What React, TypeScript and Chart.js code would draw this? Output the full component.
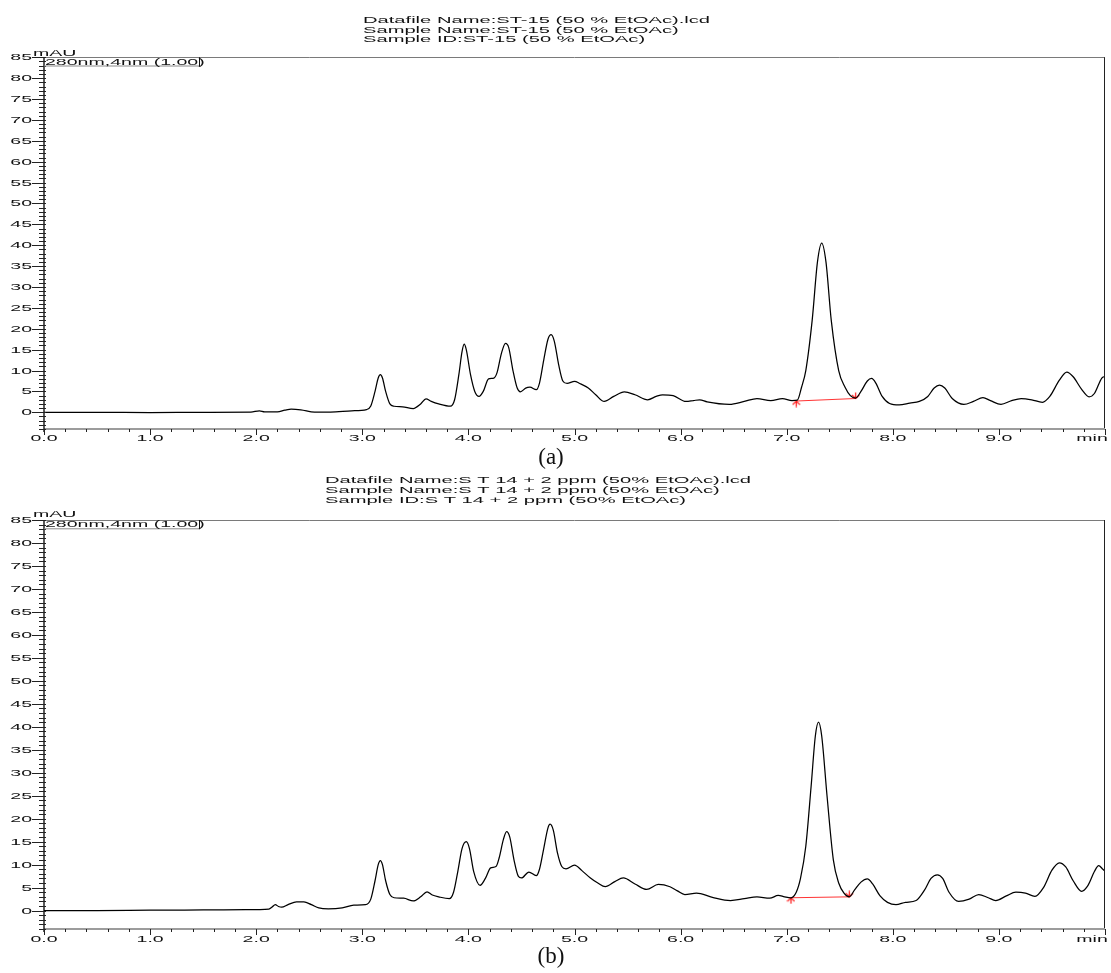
import React, { useEffect, useRef } from "react";
import { Chart, registerables } from "chart.js";

Chart.register(...registerables);

// ---------- data ----------
const timesA = [
  0.0, 0.5, 1.0, 1.5, 1.95, 2.03, 2.08, 2.2, 2.27, 2.33, 2.42, 2.55, 2.7, 2.9, 3.04, 3.08, 3.12, 3.15, 3.17, 3.19,
  3.22, 3.26, 3.3, 3.38, 3.48, 3.55, 3.6, 3.65, 3.72, 3.83, 3.87, 3.91, 3.94, 3.96, 3.98, 4.02, 4.06, 4.1, 4.14, 4.19,
  4.24, 4.27, 4.31, 4.35, 4.38, 4.42, 4.46, 4.49, 4.54, 4.58, 4.64, 4.67, 4.71, 4.75, 4.78, 4.81, 4.85, 4.89, 4.93, 5.0,
  5.05, 5.13, 5.2, 5.28, 5.37, 5.47, 5.57, 5.69, 5.77, 5.83, 5.93, 6.05, 6.12, 6.18, 6.25, 6.46, 6.6, 6.72, 6.85, 6.96,
  7.05, 7.1, 7.14, 7.18, 7.24, 7.29, 7.33, 7.37, 7.42, 7.49, 7.55, 7.6, 7.65, 7.7, 7.76, 7.8, 7.84, 7.9, 7.97, 8.06,
  8.16, 8.25, 8.33, 8.39, 8.44, 8.49, 8.56, 8.67, 8.76, 8.85, 8.92, 9.02, 9.12, 9.21, 9.31, 9.41, 9.48, 9.57, 9.64, 9.7,
  9.78, 9.85, 9.9, 9.97, 10.0,
];
const signalA = [
  0.0, 0.0, -0.05, 0.0, 0.05, 0.35, 0.1, 0.1, 0.5, 0.75, 0.6, 0.05, 0.05, 0.35, 0.65, 1.5, 5.0, 8.2, 9.0, 8.2,
  5.0, 2.0, 1.45, 1.3, 0.9, 2.0, 3.2, 2.6, 2.0, 1.45, 3.0, 9.0, 14.5, 16.3, 15.0, 9.0, 5.0, 3.8, 5.0, 8.0,
  8.2, 9.5, 14.0, 16.5, 15.5, 10.0, 5.8, 4.9, 5.8, 6.0, 5.4, 7.0, 12.5, 17.5, 18.6, 17.0, 11.5, 7.5, 6.9, 7.4,
  6.9, 5.8, 4.2, 2.6, 3.8, 4.9, 4.2, 3.0, 3.8, 4.2, 4.0, 2.6, 2.8, 3.0, 2.5, 1.9, 2.6, 3.3, 2.8, 3.3,
  2.8, 2.9, 6.0, 10.0, 22.0, 36.0, 40.5, 36.0, 22.0, 10.0, 6.0, 4.0, 3.4, 5.0, 7.5, 8.1, 7.0, 3.8, 2.1, 1.75,
  2.2, 2.6, 3.8, 5.8, 6.5, 5.8, 3.3, 1.9, 2.6, 3.5, 2.8, 1.9, 2.8, 3.3, 3.0, 2.4, 3.8, 7.7, 9.6, 8.5,
  5.5, 3.7, 4.5, 8.2, 8.6,
];

const timesB = [
  0.0, 0.5, 1.0, 1.5, 1.9, 2.12, 2.15, 2.18, 2.21, 2.24, 2.3, 2.38, 2.45, 2.52, 2.59, 2.68, 2.81, 2.92, 3.03, 3.08,
  3.12, 3.15, 3.17, 3.19, 3.22, 3.26, 3.3, 3.39, 3.48, 3.55, 3.61, 3.66, 3.72, 3.82, 3.86, 3.9, 3.94, 3.98, 4.01, 4.05,
  4.11, 4.16, 4.21, 4.26, 4.29, 4.33, 4.36, 4.39, 4.43, 4.47, 4.5, 4.57, 4.64, 4.67, 4.71, 4.75, 4.77, 4.8, 4.84, 4.88,
  4.92, 5.0, 5.07, 5.15, 5.22, 5.29, 5.38, 5.46, 5.57, 5.68, 5.79, 5.9, 5.97, 6.04, 6.15, 6.3, 6.47, 6.6, 6.72, 6.84,
  6.92, 6.98, 7.04, 7.09, 7.13, 7.18, 7.23, 7.27, 7.3, 7.33, 7.38, 7.44, 7.49, 7.54, 7.59, 7.64, 7.7, 7.76, 7.81, 7.88,
  7.95, 8.03, 8.12, 8.22, 8.3, 8.36, 8.42, 8.47, 8.53, 8.62, 8.72, 8.81, 8.9, 8.97, 9.07, 9.16, 9.25, 9.34, 9.42, 9.5,
  9.57, 9.63, 9.7, 9.78, 9.84, 9.9, 9.94, 9.98, 10.0,
];
const signalB = [
  0.0, 0.0, 0.1, 0.15, 0.2, 0.35, 0.8, 1.3, 0.9, 0.75, 1.3, 1.9, 1.9, 1.3, 0.6, 0.4, 0.6, 1.2, 1.3, 2.5,
  6.5, 10.0, 10.9, 10.0, 6.5, 3.5, 2.8, 2.7, 2.1, 3.0, 4.1, 3.4, 3.0, 2.6, 4.0, 8.5, 13.5, 15.0, 13.5, 8.5,
  5.5, 7.0, 9.3, 9.6, 11.5, 15.5, 17.2, 16.0, 11.0, 7.5, 7.1, 8.4, 7.6, 9.0, 13.5, 18.0, 18.8, 17.5, 12.5, 9.6,
  9.1, 9.9, 8.7, 7.1, 6.0, 5.2, 6.3, 7.1, 5.8, 4.6, 5.7, 5.2, 4.3, 3.5, 3.8, 2.9, 2.2, 2.6, 3.0, 2.7,
  3.3, 3.0, 2.8, 4.0, 7.0, 14.0, 27.0, 38.0, 41.0, 38.0, 25.0, 11.0, 6.0, 3.8, 3.0, 4.5, 6.2, 6.9, 5.8, 3.2,
  1.8, 1.3, 1.8, 2.2, 4.5, 7.0, 7.8, 7.0, 4.0, 2.0, 2.5, 3.5, 2.8, 2.2, 3.2, 4.0, 3.8, 3.1, 5.0, 8.8,
  10.4, 9.5, 6.5, 4.2, 5.5, 8.5, 9.8, 9.0, 8.6,
];

// integration baselines (start, end) of the main peak
const baselineTimesA = [7.09, 7.65];
const baselineValuesA = [2.7, 3.3];
const baselineTimesB = [7.04, 7.59];
const baselineValuesB = [2.8, 3.0];

// axis ticks
const yLabelValues = [0, 5, 10, 15, 20, 25, 30, 35, 40, 45, 50, 55, 60, 65, 70, 75, 80, 85];
const xLabelValues = [0, 1, 2, 3, 4, 5, 6, 7, 8, 9, 10];
const xTickLabels = ["0.0", "1.0", "2.0", "3.0", "4.0", "5.0", "6.0", "7.0", "8.0", "9.0", "min"];

const titlesA = [
  "Datafile Name:ST-15 (50 % EtOAc).lcd",
  "Sample Name:ST-15 (50 % EtOAc)",
  "Sample ID:ST-15 (50 % EtOAc)",
];
const titlesB = [
  "Datafile Name:S T 14 + 2 ppm (50% EtOAc).lcd",
  "Sample Name:S T 14 + 2 ppm (50% EtOAc)",
  "Sample ID:S T 14 + 2 ppm (50% EtOAc)",
];
const channelLabel = "280nm,4nm (1.00)";
const unitLabel = "mAU";

// ---------- drawing helpers ----------
const SANS = '"Liberation Sans", Arial, sans-serif';
const SX = 2.3; // horizontal stretch of the reference text
const SX_TITLE = 2.37;
const FONT = `8.5px ${SANS}`;

function makeArrow(up: boolean): HTMLCanvasElement {
  const c = document.createElement("canvas");
  c.width = 9;
  c.height = 13;
  const g = c.getContext("2d")!;
  g.strokeStyle = "#ff1010";
  g.lineWidth = 1.2;
  g.beginPath();
  if (up) {
    g.moveTo(4.5, 6.5);
    g.lineTo(4.5, 12.5);
    g.moveTo(0.8, 10.2);
    g.lineTo(4.5, 6.5);
    g.lineTo(8.2, 10.2);
  } else {
    g.moveTo(4.5, 6.5);
    g.lineTo(4.5, 0.5);
    g.moveTo(0.8, 2.8);
    g.lineTo(4.5, 6.5);
    g.lineTo(8.2, 2.8);
  }
  g.stroke();
  return c;
}

interface PanelCfg {
  times: number[];
  signal: number[];
  baseT: number[];
  baseV: number[];
  titles: string[];
  titleX: number;
  titleBaselines: number[];
  mauBaseline: number;
  legendBottom: number;
  legendBaseline: number;
  xLabelOffset: number;
  caption: string;
  captionY: number;
  width: number;
  height: number;
  padTop: number;
  padRight: number;
  xAxisHeight: number;
}

function stext(ctx: CanvasRenderingContext2D, s: string, x: number, y: number, align: CanvasTextAlign, sx = SX) {
  ctx.save();
  ctx.translate(x, y);
  ctx.scale(sx, 1);
  ctx.textAlign = align;
  ctx.fillText(s, 0, 0);
  ctx.restore();
}

function makePlugin(cfg: PanelCfg) {
  return {
    id: "hplcFrame",
    afterDraw(chart: any) {
      const ctx: CanvasRenderingContext2D = chart.ctx;
      const xs = chart.scales.x;
      const ys = chart.scales.y;
      const a = chart.chartArea;
      ctx.save();
      // frame: top and right
      ctx.strokeStyle = "#7a7a7a";
      ctx.lineWidth = 1;
      ctx.beginPath();
      ctx.moveTo(a.left, Math.round(a.top) + 0.5);
      ctx.lineTo(a.right, Math.round(a.top) + 0.5);
      ctx.stroke();
      ctx.strokeStyle = "#222";
      ctx.beginPath();
      ctx.moveTo(Math.round(a.right) - 0.5, a.top);
      ctx.lineTo(Math.round(a.right) - 0.5, a.bottom);
      ctx.stroke();
      // bottom axis (gray, thick)
      ctx.strokeStyle = "#9c9c9c";
      ctx.lineWidth = 2;
      ctx.beginPath();
      ctx.moveTo(a.left, a.bottom);
      ctx.lineTo(a.right, a.bottom);
      ctx.stroke();
      // left axis
      ctx.strokeStyle = "#000";
      ctx.lineWidth = 1.3;
      ctx.beginPath();
      ctx.moveTo(a.left, a.top);
      ctx.lineTo(a.left, a.bottom + 3);
      ctx.stroke();

      // y ticks
      ctx.lineWidth = 1;
      ctx.strokeStyle = "#222";
      const yMin = ys.min, yMax = ys.max;
      for (let v = Math.ceil(yMin); v <= yMax; v++) {
        const py = Math.round(ys.getPixelForValue(v)) + 0.5;
        ctx.beginPath();
        ctx.moveTo(a.left - 5, py);
        ctx.lineTo(a.left + 2, py);
        ctx.stroke();
      }
      ctx.fillStyle = "#111";
      ctx.font = FONT;
      ctx.textBaseline = "middle";
      for (const v of yLabelValues) {
        const py = Math.round(ys.getPixelForValue(v)) + 0.5;
        ctx.beginPath();
        ctx.moveTo(a.left - 12, py);
        ctx.lineTo(a.left, py);
        ctx.stroke();
        stext(ctx, String(v), a.left - 12, py, "right");
      }
      // x ticks (every 0.2 min)
      for (let k = 0; k <= 50; k++) {
        const px = Math.round(xs.getPixelForValue(k * 0.2)) + 0.5;
        const len = k % 5 === 0 ? 6 : 3;
        ctx.beginPath();
        ctx.moveTo(px, a.bottom);
        ctx.lineTo(px, a.bottom + len);
        ctx.stroke();
      }
      ctx.textBaseline = "middle";
      xLabelValues.forEach((v, i) => {
        const px = xs.getPixelForValue(v);
        const label = xTickLabels[i];
        const dx = label === "min" ? -13 : 0;
        stext(ctx, label, px + dx, a.bottom + cfg.xLabelOffset, "center");
      });

      // unit label and channel legend
      ctx.textBaseline = "alphabetic";
      stext(ctx, unitLabel, a.left - 11, cfg.mauBaseline, "left");
      ctx.strokeStyle = "#8a8a8a";
      ctx.beginPath();
      ctx.moveTo(a.left, cfg.legendBottom + 0.5);
      ctx.lineTo(199, cfg.legendBottom + 0.5);
      ctx.stroke();
      ctx.strokeStyle = "#111";
      ctx.beginPath();
      ctx.moveTo(199.5, a.top);
      ctx.lineTo(199.5, cfg.legendBottom + 1);
      ctx.stroke();
      stext(ctx, channelLabel, a.left + 1, cfg.legendBaseline, "left");

      // titles
      cfg.titles.forEach((t, i) => stext(ctx, t, cfg.titleX, cfg.titleBaselines[i], "left", SX_TITLE));

      // caption
      ctx.font = `23px "Liberation Serif", "Times New Roman", serif`;
      ctx.textAlign = "center";
      ctx.textBaseline = "middle";
      ctx.fillText(cfg.caption, 551, cfg.captionY);
      ctx.restore();
    },
  };
}

function Panel({ cfg, top }: { cfg: PanelCfg; top: number }) {
  const ref = useRef<HTMLCanvasElement | null>(null);
  useEffect(() => {
    const canvas = ref.current!;
    const up = makeArrow(true);
    const down = makeArrow(false);
    const chart = new Chart(canvas, {
      type: "line",
      data: {
        datasets: [
          {
            data: cfg.times.map((t, i) => ({ x: t, y: cfg.signal[i] })),
            borderColor: "#000",
            borderWidth: 1.25,
            pointRadius: 0,
            cubicInterpolationMode: "monotone",
            fill: false,
          },
          {
            data: cfg.baseT.map((t, i) => ({ x: t, y: cfg.baseV[i] })),
            borderColor: "rgba(255,30,30,0.9)",
            borderWidth: 1,
            pointStyle: [up, down] as any,
            pointRadius: 5,
            tension: 0,
            fill: false,
          },
        ],
      },
      options: {
        animation: false,
        responsive: false,
        maintainAspectRatio: false,
        events: [],
        layout: { padding: { top: cfg.padTop, right: cfg.padRight, left: 0, bottom: 0 } },
        plugins: { legend: { display: false }, tooltip: { enabled: false }, title: { display: false } },
        scales: {
          x: {
            type: "linear",
            min: 0,
            max: 10,
            ticks: { display: false, stepSize: 0.2 },
            grid: { display: false },
            border: { display: false },
            afterFit: (s: any) => {
              s.height = cfg.xAxisHeight;
            },
          },
          y: {
            type: "linear",
            min: -4,
            max: 85,
            ticks: { display: false, stepSize: 1 },
            grid: { display: false },
            border: { display: false },
            afterFit: (s: any) => {
              s.width = 44;
            },
          },
        },
      },
      plugins: [makePlugin(cfg)],
    } as any);
    return () => chart.destroy();
  }, [cfg]);
  return (
    <canvas
      ref={ref}
      width={cfg.width}
      height={cfg.height}
      style={{ position: "absolute", left: 0, top, width: cfg.width, height: cfg.height, display: "block" }}
    />
  );
}

const cfgA: PanelCfg = {
  times: timesA,
  signal: signalA,
  baseT: baselineTimesA,
  baseV: baselineValuesA,
  titles: titlesA,
  titleX: 363,
  titleBaselines: [23.3, 32.5, 41.5],
  mauBaseline: 55.7,
  legendBottom: 65.5,
  legendBaseline: 64.5,
  xLabelOffset: 9.5,
  caption: "(a)",
  captionY: 458,
  width: 1111,
  height: 472,
  padTop: 57.3,
  padRight: 6,
  xAxisHeight: 43,
};

const cfgB: PanelCfg = {
  times: timesB,
  signal: signalB,
  baseT: baselineTimesB,
  baseV: baselineValuesB,
  titles: titlesB,
  titleX: 325,
  titleBaselines: [10.5, 20.5, 30.5],
  mauBaseline: 44.7,
  legendBottom: 56.3,
  legendBaseline: 54.7,
  xLabelOffset: 11,
  caption: "(b)",
  captionY: 485,
  width: 1111,
  height: 501,
  padTop: 48,
  padRight: 1,
  xAxisHeight: 44,
};

export default function App() {
  return (
    <div style={{ position: "absolute", left: 0, top: 0, width: 1111, height: 973, background: "#fff", overflow: "hidden" }}>
      <Panel cfg={cfgA} top={0} />
      <Panel cfg={cfgB} top={472} />
    </div>
  );
}
